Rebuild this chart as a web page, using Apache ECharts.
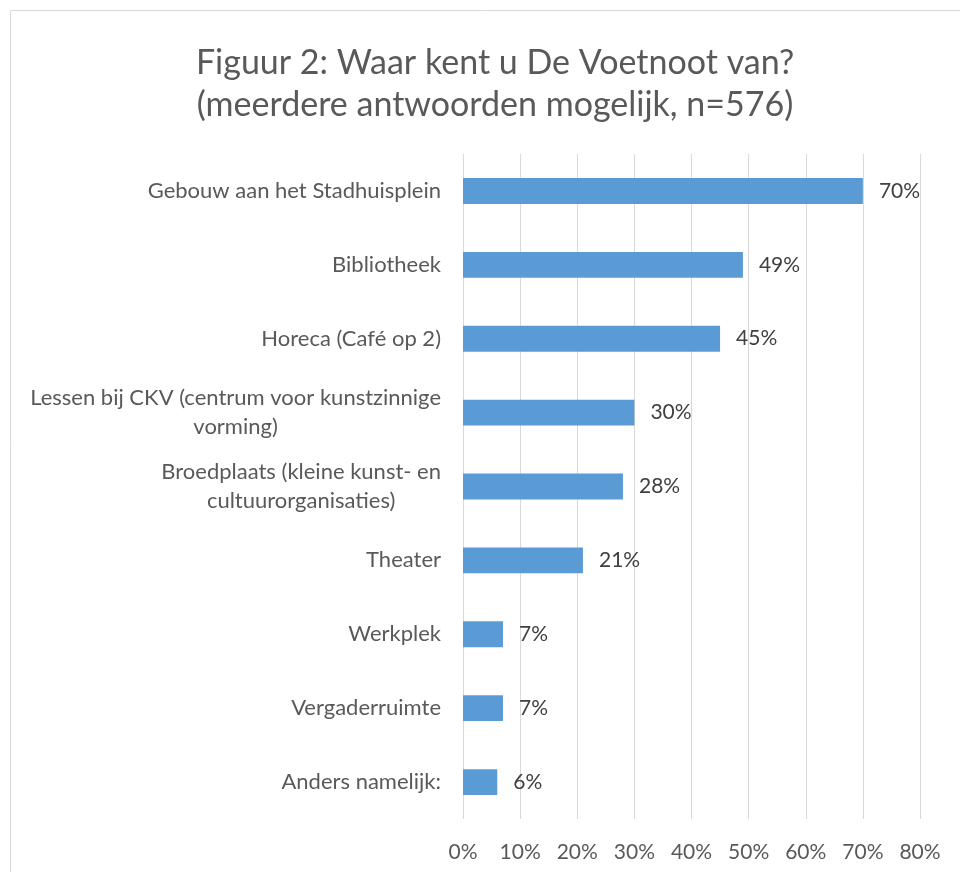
<!DOCTYPE html>
<html>
<head>
<meta charset="utf-8">
<script src="https://cdn.jsdelivr.net/npm/echarts@6/dist/echarts.min.js"></script>
<style>
  html, body { margin: 0; padding: 0; background: #fff; }
  #chart { width: 960px; height: 872px; }
</style>
</head>
<body>
<div id="chart"></div>
<script>
var categories = [
  'Gebouw aan het Stadhuisplein',
  'Bibliotheek',
  'Horeca (Café op 2)',
  'Lessen bij CKV (centrum voor kunstzinnige\nvorming)',
  'Broedplaats (kleine kunst- en\ncultuurorganisaties)',
  'Theater',
  'Werkplek',
  'Vergaderruimte',
  'Anders namelijk:'
];
var values = [70, 49, 45, 30, 28, 21, 7, 7, 6];
var titleLines = ['Figuur 2: Waar kent u De Voetnoot van?', '(meerdere antwoorden mogelijk, n=576)'];

var font = 'Lato, "Open Sans", sans-serif';
var mychart = echarts.init(document.getElementById('chart'));
var option = {
  animation: false,
  backgroundColor: '#fff',
  textStyle: { fontFamily: font },
  graphic: [{
    type: 'rect',
    shape: { x: 10.5, y: 10.5, width: 970, height: 880 },
    style: { fill: 'none', stroke: '#d9d9d9', lineWidth: 1 },
    silent: true
  }],
  title: {
    text: titleLines.join('\n'),
    left: 490,
    textAlign: 'center',
    top: 37,
    textStyle: {
      fontFamily: font,
      fontSize: 34,
      fontWeight: 'normal',
      color: '#595959',
      lineHeight: 42
    }
  },
  grid: {
    left: 463,
    right: 40,
    top: 154,
    bottom: 53
  },
  xAxis: {
    type: 'value',
    min: 0,
    max: 80,
    interval: 10,
    axisLine: { show: false },
    axisTick: { show: false },
    splitLine: { lineStyle: { color: '#d9d9d9', width: 1 } },
    axisLabel: {
      formatter: '{value}%',
      color: '#595959',
      fontSize: 21,
      fontFamily: font,
      margin: 23
    }
  },
  yAxis: {
    type: 'category',
    inverse: true,
    data: categories,
    axisLine: { show: false },
    axisTick: { show: false },
    axisLabel: {
      color: '#595959',
      fontSize: 22,
      fontFamily: font,
      margin: 22,
      lineHeight: 29,
      formatter: function (v) {
        return v.split('\n').map(function (s) { return '{c|' + s + '}'; }).join('\n');
      },
      rich: {
        c: { align: 'center', fontSize: 22, lineHeight: 29, color: '#595959', fontFamily: font }
      }
    }
  },
  series: [{
    type: 'bar',
    data: values,
    barCategoryGap: '65%',
    itemStyle: { color: '#5b9bd5' },
    label: {
      show: true,
      position: 'right',
      distance: 16,
      formatter: '{c}%',
      color: '#404040',
      fontSize: 21,
      fontFamily: font
    }
  }]
};
mychart.setOption(option);
window.addEventListener('resize', function () {
  mychart.resize();
});
</script>
</body>
</html>
